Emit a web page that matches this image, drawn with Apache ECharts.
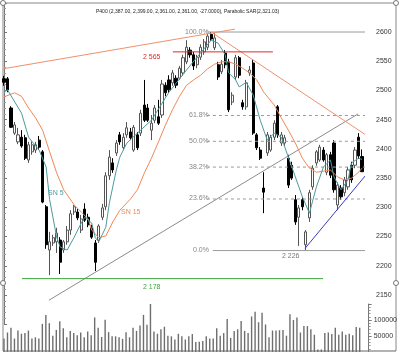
<!DOCTYPE html>
<html>
<head>
<meta charset="utf-8">
<script src="https://cdn.jsdelivr.net/npm/echarts@6/dist/echarts.min.js"></script>
<style>html,body{margin:0;padding:0;background:#fff}#main{width:400px;height:352px}</style>
</head>
<body>
<div id="main"></div>
<script>
// daily bars: [open, close, low, high]
const candles = [
  [2520,2514,2508,2525],[2520,2501,2497,2523],[2470,2437,2436,2473],[2427,2441,2424,2446],[2412,2424,2408,2436],
  [2420,2405,2402,2432],[2419,2384,2381,2424],[2381,2407,2376,2412],[2395,2407,2390,2413],[2398,2407,2393,2412],
  [2415,2403,2398,2422],[2395,2309,2307,2398],[2301,2236,2229,2304],[2227,2241,2184,2258],[2239,2248,2234,2253],
  [2241,2256,2222,2265],[2244,2206,2186,2249],[2227,2241,2222,2244],[2241,2261,2236,2268],[2261,2289,2253,2295],
  [2292,2301,2287,2304],[2292,2282,2278,2297],[2261,2280,2256,2287],[2297,2278,2275,2307],[2283,2270,2266,2289],
  [2265,2249,2246,2270],[2239,2206,2191,2244],[2244,2268,2239,2271],[2283,2299,2278,2306],[2301,2354,2295,2360],
  [2354,2386,2347,2398],[2376,2364,2359,2384],[2393,2410,2388,2415],[2424,2412,2407,2429],[2402,2420,2398,2427],
  [2424,2436,2419,2446],[2429,2419,2415,2436],[2398,2437,2395,2441],[2424,2402,2398,2429],[2427,2461,2422,2467],
  [2475,2449,2446,2518],[2470,2449,2446,2477],[2432,2444,2415,2458],[2449,2470,2444,2475],[2455,2444,2441,2484],
  [2458,2511,2453,2518],[2509,2496,2490,2514],[2518,2501,2496,2526],[2513,2530,2508,2535],[2521,2509,2504,2526],
  [2521,2538,2518,2542],[2530,2556,2525,2561],[2549,2574,2545,2586],[2569,2561,2556,2574],[2561,2542,2535,2566],
  [2544,2557,2538,2561],[2557,2574,2552,2579],[2566,2583,2561,2588],[2574,2593,2569,2597],[2596,2588,2585,2600],
  [2573,2590,2569,2598],[2544,2523,2518,2549],[2532,2545,2528,2552],[2564,2544,2538,2569],[2549,2467,2463,2554],
  [2480,2492,2475,2497],[2523,2556,2518,2561],[2556,2526,2521,2559],[2479,2472,2467,2484],[2472,2513,2467,2518],
  [2530,2535,2525,2542],[2547,2427,2424,2552],[2424,2402,2398,2427],[2398,2384,2381,2403],[2333,2326,2290,2360],
  [2393,2424,2388,2429],[2398,2420,2395,2424],[2420,2444,2415,2449],[2472,2424,2419,2475],[2410,2424,2405,2429],
  [2410,2419,2405,2424],[2384,2338,2333,2390],[2372,2350,2347,2378],[2313,2275,2270,2321],[2283,2299,2234,2304],
  [2313,2301,2295,2318],[2236,2258,2226,2261],[2282,2325,2275,2330],[2335,2367,2330,2372],[2376,2395,2371,2398],
  [2381,2403,2378,2407],[2398,2381,2378,2403],[2360,2390,2355,2393],[2390,2355,2350,2395],[2410,2330,2325,2415],
  [2304,2338,2295,2343],[2333,2318,2313,2338],[2325,2347,2319,2352],[2335,2364,2330,2369],[2372,2347,2342,2378],
  [2372,2398,2367,2403],[2420,2388,2383,2427],[2387,2361,2361,2399]
];

const volumes = [
  42000,61000,76000,42000,67000,57000,59000,67000,42000,46000,
  42000,88000,116000,90000,51000,69000,96000,74000,46000,66000,
  59000,52000,61000,46000,64000,52000,108000,76000,47000,101000,
  62000,49000,49000,46000,41000,62000,46000,76000,66000,83000,
  116000,85000,150000,64000,57000,71000,79000,51000,49000,39000,
  57000,49000,39000,49000,56000,31000,32000,34000,49000,42000,
  42000,74000,51000,59000,103000,44000,66000,71000,97000,66000,
  59000,111000,126000,93000,123000,86000,46000,67000,67000,68000,
  69000,51000,118000,100000,108000,61000,81000,81000,71000,54000,
  8000,8000,59000,61000,56000,76000,54000,64000,54000,57000,
  52000,78000,76000
];

// moving averages: [bar index, value]
const sma5 = [
  [0,2497],[1,2501],[5,2461],[7,2420],[10,2398],[12,2369],[13,2313],[15,2249],[16,2232],[18,2227],
  [20,2249],[22,2273],[23,2283],[25,2273],[26,2248],[27,2241],[29,2266],[30,2307],[32,2364],[33,2386],
  [35,2410],[38,2427],[42,2449],[47,2497],[52,2535],[55,2557],[59,2586],[61,2581],[63,2561],[64,2530],
  [66,2518],[67,2506],[69,2514],[71,2492],[73,2449],[75,2415],[77,2427],[79,2420],[82,2369],[85,2318],
  [87,2290],[89,2335],[91,2369],[93,2381],[94,2352],[96,2330],[98,2347],[99,2376],[101,2384],[102,2382]
];
const sma15 = [
  [0,2489],[3,2496],[5,2490],[7,2470],[9,2453],[11,2432],[13,2395],[15,2359],[17,2330],[20,2304],
  [22,2292],[24,2280],[25,2261],[27,2248],[29,2251],[31,2275],[33,2295],[36,2314],[38,2330],[40,2359],
  [42,2384],[44,2412],[46,2441],[48,2467],[50,2490],[52,2509],[54,2518],[56,2526],[58,2537],[60,2545],
  [62,2549],[64,2549],[66,2545],[68,2538],[70,2530],[72,2518],[74,2497],[77,2475],[79,2453],[81,2432],
  [83,2410],[85,2384],[87,2367],[89,2360],[91,2362],[93,2364],[95,2352],[97,2347],[99,2350],[101,2360],[102,2367]
];

// drawn studies: [bar index, price] end points
const upperLine = [[-0.3,2537],[65.8,2605]];
const fallLine = [[59.5,2598],[104.3,2419]];
const riseLine = [[12.8,2141],[100.9,2460]];
const blueLine = [[85.8,2230],[104.3,2364]];
const lowLine = [[5.1,2178],[90.9,2178]];
const redLine = [[48.1,2566],[76.6,2566]];
const fibHigh = 2600, fibLow = 2226;
const fibLevels = [0.618, 0.5, 0.382, 0.236];
const fibStart = 57.8, fibEnd = 104.3;

const priceTicks = [2150, 2600];
const volTicks = [50000, 100000];

const FONT = 'Liberation Sans';
const chart = echarts.init(document.getElementById('main'));
const days = candles.map((c, i) => i);

function seg(data, color, type) {
  return {
    type: 'line', xAxisIndex: 1, yAxisIndex: 0, data: data, symbol: 'none',
    silent: true, clip: false, animation: false,
    lineStyle: { color: color, width: 1, type: type || 'solid' }
  };
}

const fibSeries = fibLevels.map(f => {
  const v = fibLow + f * (fibHigh - fibLow);
  return seg([[fibStart, v], [fibEnd, v]], '#9a9a9a', [3, 3]);
});

function txt(x, y, s, color, size) {
  return { type: 'text', x: x, y: y, silent: true,
    style: { text: s, fill: color, font: (size || 7) + 'px ' + FONT, verticalAlign: 'middle' } };
}
function dot(x, y) {
  return { type: 'circle', shape: { cx: x, cy: y, r: 2.5 }, silent: true, z: 10,
    style: { fill: '#fff', stroke: '#777', lineWidth: 1 } };
}

const axisY = (gi, min, max, step, show) => ({
  gridIndex: gi, type: 'value', position: 'right', offset: 7.2,
  min: min, max: max, interval: step,
  axisLine: { show: true, lineStyle: { color: '#777' } },
  axisTick: { show: true, length: 3, lineStyle: { color: '#777' } },
  minorTick: { show: true, splitNumber: 5, length: 2, lineStyle: { color: '#999' } },
  splitLine: { show: false },
  axisLabel: {
    margin: 5, fontSize: 7, fontFamily: FONT, color: '#333',
    formatter: v => (v >= show[0] && v <= show[1]) ? String(v) : ''
  }
});

chart.setOption({
  animation: false,
  backgroundColor: '#fff',
  grid: [
    { left: 2.25, right: 36.2, top: 2.8, height: 321.4 },
    { left: 2.25, right: 36.2, top: 304, height: 51 }
  ],
  xAxis: [
    { type: 'category', gridIndex: 0, data: days, boundaryGap: true, show: false },
    { type: 'value', gridIndex: 0, min: -0.5, max: candles.length - 0.5, show: false },
    { type: 'category', gridIndex: 1, data: days, boundaryGap: true, show: false }
  ],
  yAxis: [
    axisY(0, 2100, 2650, 50, priceTicks),
    axisY(1, 0, 150000, 50000, volTicks)
  ],
  series: [
    seg(riseLine, '#8c8c8c'),
    seg([[fibStart, fibHigh], [fibEnd, fibHigh]], '#9a9a9a'),
    seg([[fibStart + 1.7, fibLow], [fibEnd, fibLow]], '#9a9a9a'),
    ...fibSeries,
    seg(lowLine, '#3fa53f'),
    seg(upperLine, '#f0906a'),
    seg(fallLine, '#f0906a'),
    seg(blueLine, '#3a3ac8'),
    seg(redLine, '#e02828'),
    {
      type: 'candlestick', xAxisIndex: 0, yAxisIndex: 0, data: candles,
      barWidth: 2.6,
      itemStyle: { color: '#fff', color0: '#000', borderColor: '#555', borderColor0: '#000', borderWidth: 1 }
    },
    {
      type: 'line', xAxisIndex: 0, yAxisIndex: 0, data: sma15, symbol: 'none', silent: true,
      lineStyle: { color: '#f08858', width: 1 }
    },
    {
      type: 'line', xAxisIndex: 0, yAxisIndex: 0, data: sma5, symbol: 'none', silent: true,
      lineStyle: { color: '#4f9a9e', width: 1 }
    },
    {
      type: 'bar', xAxisIndex: 2, yAxisIndex: 1, data: volumes, barWidth: 1.4,
      itemStyle: { color: '#6e6e6e' }
    }
  ],
  graphic: [
    { type: 'line', shape: { x1: 3, y1: 3, x2: 396, y2: 3 }, style: { stroke: '#888' }, silent: true },
    { type: 'line', shape: { x1: 3, y1: 3, x2: 3, y2: 351 }, style: { stroke: '#888' }, silent: true },
    { type: 'line', shape: { x1: 396, y1: 3, x2: 396, y2: 351 }, style: { stroke: '#888' }, silent: true },
    { type: 'line', shape: { x1: 3, y1: 351, x2: 396, y2: 351 }, style: { stroke: '#666' }, silent: true },
    dot(3, 3), dot(396, 3), dot(3, 283), dot(396, 283),
    txt(96, 12, 'P400 (2,387.00, 2,399.00, 2,361.00, 2,361.00, -27.0000), Parabolic SAR(2,321.03)', '#222', 5),
    txt(143, 57, '2 565', '#e02828'),
    txt(143, 287, '2 178', '#3fa53f'),
    txt(185, 32, '100.0%', '#888'),
    txt(189, 115, '61.8%', '#888'),
    txt(189, 141, '50.0%', '#888'),
    txt(189, 167, '38.2%', '#888'),
    txt(189, 198, '23.6%', '#888'),
    txt(193, 250, '0.0%', '#888'),
    txt(282, 256, '2 226', '#777'),
    txt(48, 193, 'SN 5', '#4f9a9e'),
    txt(121, 212, 'SN 15', '#f08858')
  ]
});
</script>
</body>
</html>
